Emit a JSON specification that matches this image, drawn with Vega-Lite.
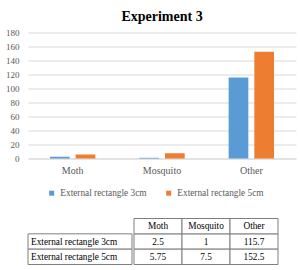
{
  "$schema": "https://vega.github.io/schema/vega-lite/v6.json",
  "padding": {"left": 5, "top": 9.5, "right": 4, "bottom": 0},
  "background": "white",
  "config": {"view": {"stroke": null}, "font": "Liberation Serif"},
  "datasets": {
    "bars": [
      {"category": "Moth", "series": "External rectangle 3cm", "value": 2.5},
      {"category": "Moth", "series": "External rectangle 5cm", "value": 5.75},
      {"category": "Mosquito", "series": "External rectangle 3cm", "value": 1},
      {"category": "Mosquito", "series": "External rectangle 5cm", "value": 7.5},
      {"category": "Other", "series": "External rectangle 3cm", "value": 115.7},
      {"category": "Other", "series": "External rectangle 5cm", "value": 152.5}
    ]
  },
  "columns": 1,
  "align": "none",
  "spacing": 0,
  "resolve": {"legend": {"color": "independent"}},
  "concat": [
    {
      "title": {"text": "Experiment 3", "fontSize": 14, "fontWeight": "bold", "color": "#000000", "anchor": "middle", "offset": 5},
      "width": 268,
      "height": 126,
      "data": {"name": "bars"},
      "mark": {"type": "bar"},
      "encoding": {
        "x": {"field": "category", "type": "nominal", "sort": ["Moth", "Mosquito", "Other"],
          "scale": {"paddingInner": 0.492, "paddingOuter": 0.246},
          "axis": {"title": null, "labelAngle": 0, "ticks": false, "domainColor": "#d9d9d9", "labelFontSize": 10, "labelColor": "#595959", "labelPadding": 7}},
        "xOffset": {"field": "series", "type": "nominal", "scale": {"paddingInner": 0.233, "paddingOuter": 0}},
        "y": {"field": "value", "type": "quantitative", "scale": {"domain": [0, 180], "nice": false},
          "axis": {"title": null, "values": [0, 20, 40, 60, 80, 100, 120, 140, 160, 180], "domain": false, "ticks": false, "gridColor": "#d9d9d9", "labelFontSize": 9, "labelColor": "#595959", "labelPadding": 9}},
        "color": {"field": "series", "type": "nominal", "scale": {"range": ["#5b9bd5", "#ed7d31"]},
          "legend": {"orient": "bottom", "direction": "horizontal", "title": null, "symbolType": "square", "symbolSize": 25, "symbolStrokeWidth": 0, "labelFontSize": 9.3, "labelColor": "#595959", "columnPadding": 17, "labelOffset": 4, "padding": 19, "offset": -6}}
      }
    },
    {
      "spacing": 0,
      "hconcat": [
        {
          "width": 104,
          "height": 46,
          "data": {"name": "bars"},
          "transform": [{"filter": "datum.category === 'Moth'"}],
          "encoding": {
            "x": {"field": "category", "type": "nominal", "scale": {"padding": 0}, "axis": null},
            "y": {"field": "series", "type": "nominal", "scale": {"domain": ["header", "External rectangle 3cm", "External rectangle 5cm"], "padding": 0},
              "axis": {"title": null, "labels": false, "domain": false, "ticks": true, "tickSize": 19, "tickOpacity": 0}}
          },
          "layer": [
            {"mark": {"type": "rect", "fill": "white", "stroke": "#7f7f7f", "strokeWidth": 1}},
            {"mark": {"type": "text", "align": "left", "dx": 3, "fontSize": 9.3, "color": "#000000"},
              "encoding": {"x": {"field": "category", "type": "nominal", "bandPosition": 0, "axis": null}, "text": {"field": "series", "type": "nominal"}}}
          ]
        },
        {
          "width": 144,
          "height": 46,
          "data": {"name": "bars"},
          "encoding": {
            "x": {"field": "category", "type": "nominal", "sort": ["Moth", "Mosquito", "Other"], "scale": {"padding": 0}, "axis": null}
          },
          "layer": [
            {"mark": {"type": "rect", "fill": "white", "stroke": "#7f7f7f", "strokeWidth": 1},
              "encoding": {"y": {"field": "series", "type": "nominal", "scale": {"domain": ["header", "External rectangle 3cm", "External rectangle 5cm"], "padding": 0}, "axis": null}}},
            {"mark": {"type": "text", "fontSize": 9.3, "color": "#000000"},
              "encoding": {"y": {"field": "series", "type": "nominal", "axis": null}, "text": {"field": "value", "type": "nominal"}}},
            {"transform": [{"filter": "datum.series === 'External rectangle 3cm'"}],
              "mark": {"type": "rect", "fill": "white", "stroke": "#7f7f7f", "strokeWidth": 1},
              "encoding": {"y": {"datum": "header", "type": "nominal", "axis": null}}},
            {"transform": [{"filter": "datum.series === 'External rectangle 3cm'"}],
              "mark": {"type": "text", "fontSize": 9.3, "color": "#000000"},
              "encoding": {"y": {"datum": "header", "type": "nominal", "axis": null}, "text": {"field": "category", "type": "nominal"}}}
          ]
        }
      ]
    }
  ]
}
